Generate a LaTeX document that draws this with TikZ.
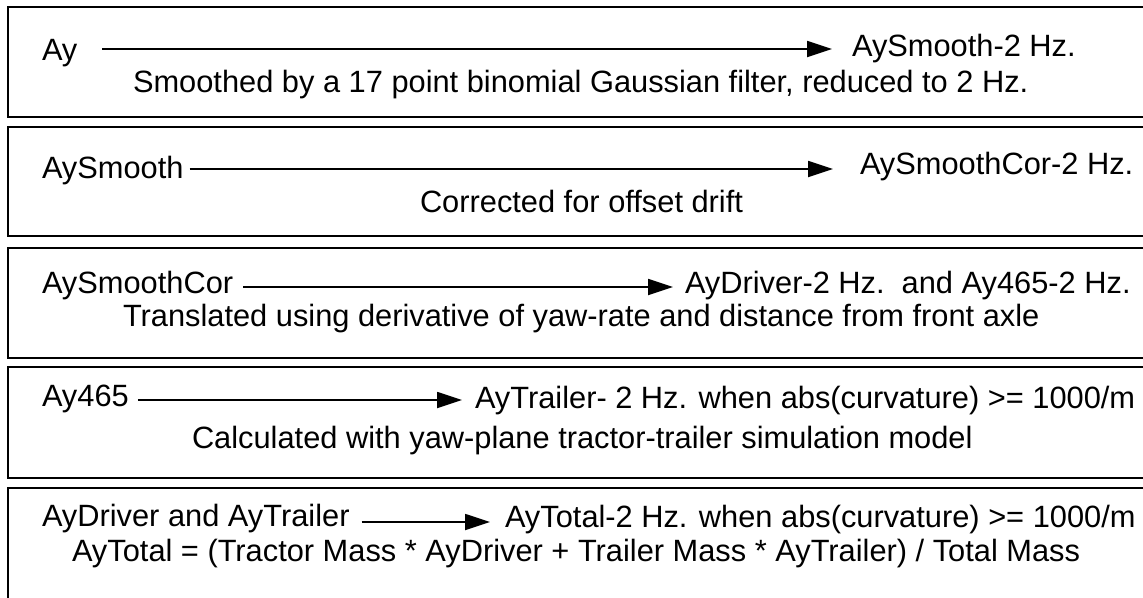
\documentclass[tikz,border=0pt]{standalone}
\usepackage{fontspec}
\setmainfont{Liberation Sans}
\usetikzlibrary{arrows.meta,calc}
\tikzset{
  panel/.style={draw=black, line width=2.8pt},
  txt/.style={inner sep=0pt, outer sep=0pt, anchor=base west, font=\fontsize{30.8}{36}\selectfont},
  arr/.style={line width=1.8pt, -{Triangle[length=25pt,width=16pt]}}
}
\begin{document}
\begin{tikzpicture}[x=1pt,y=-1pt]
\useasboundingbox (0,0) rectangle (1143,597);
\clip (0,0) rectangle (1143,597);
% panels
\draw[panel] (8,7) rectangle (1170,117);
\draw[panel] (8,127) rectangle (1170,236);
\draw[panel] (8,248) rectangle (1170,358);
\draw[panel] (8,367) rectangle (1170,478);
\draw[panel] (8,488) rectangle (1170,640);
% panel 1
\node[txt] (s1) at (42,60) {Ay};
\node[txt] (t1) at (852,56) {AySmooth-2 Hz.};
\node[txt] (d1) at (133,92) {Smoothed by a 17 point binomial Gaussian filter, reduced to 2 Hz.};
\draw[arr] ($(s1.base east)+(25,-11)$) -- ($(t1.base west)+(-20,-7)$);
% panel 2
\node[txt] (s2) at (42,178) {AySmooth};
\node[txt] (t2) at (860,174) {AySmoothCor-2 Hz.};
\node[txt] (d2) at (420,212) {Corrected for offset drift};
\draw[arr] ($(s2.base east)+(6,-9)$) -- ($(t2.base west)+(-27,-5)$);
% panel 3
\node[txt] (s3) at (42,293) {AySmoothCor};
\node[txt] (t3) at (685,293) {AyDriver-2 Hz.\ \ and Ay465-2 Hz.};
\node[txt] (d3) at (123,326) {Translated using derivative of yaw-rate and distance from front axle};
\draw[arr] ($(s3.base east)+(10,-6)$) -- ($(t3.base west)+(-12,-6)$);
% panel 4
\node[txt] (s4) at (42,406) {Ay465};
\node[txt] (t4) at (475,408) {AyTrailer- 2 Hz. when abs(curvature) >= 1000/m};
\node[txt] (d4) at (192,448) {Calculated with yaw-plane tractor-trailer simulation model};
\draw[arr] ($(s4.base east)+(9,-6)$) -- ($(t4.base west)+(-13,-8)$);
% panel 5
\node[txt] (s5) at (42,526) {AyDriver and AyTrailer};
\node[txt] (t5) at (505,527) {AyTotal-2 Hz. when abs(curvature) >= 1000/m};
\node[txt] (d5) at (72,561) {AyTotal = (Tractor Mass * AyDriver + Trailer Mass * AyTrailer) / Total Mass};
\draw[arr] ($(s5.base east)+(12,-4)$) -- ($(t5.base west)+(-15,-5)$);
\end{tikzpicture}
\end{document}
